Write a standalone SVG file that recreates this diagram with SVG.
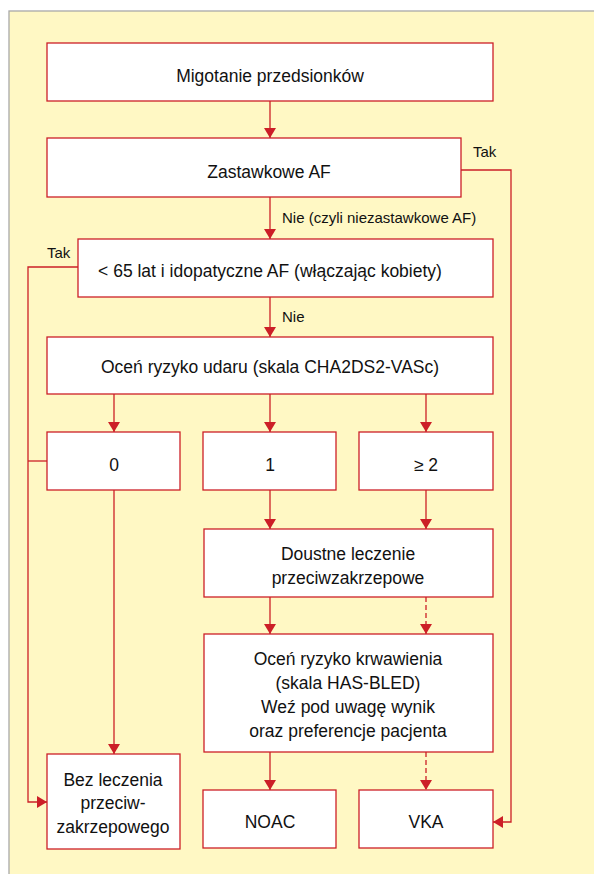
<svg xmlns="http://www.w3.org/2000/svg" width="594" height="874" viewBox="0 0 594 874">
<defs>
<marker id="ah" markerWidth="10" markerHeight="12" refX="10" refY="6" orient="auto" markerUnits="userSpaceOnUse">
<path d="M0,0 L10,6 L0,12 Z" fill="#cc1f27"/>
</marker>
<style>
.box{fill:#ffffff;stroke:#cc1f27;stroke-width:1.3}
.t{font-family:"Liberation Sans",Arial,sans-serif;font-size:17.5px;fill:#111;text-anchor:middle}
.l{font-family:"Liberation Sans",Arial,sans-serif;font-size:15px;fill:#111}
.c{fill:none;stroke:#cc1f27;stroke-width:1.3}
.a{marker-end:url(#ah)}
.d{stroke-dasharray:5,3}
</style>
</defs>
<rect x="9" y="11" width="600" height="880" fill="#fff8c4" stroke="#a9a9a9" stroke-width="1.3"/>

<g id="connectors">
<line class="c a" x1="270" y1="101" x2="270" y2="138"/>
<line class="c a" x1="270" y1="197" x2="270" y2="239"/>
<line class="c a" x1="270" y1="297" x2="270" y2="337"/>
<polyline class="c a" points="461,170 511,170 511,822 493,822"/>
<polyline class="c a" points="78,267 28,267 28,802 47,802"/>
<line class="c" x1="28" y1="461" x2="47" y2="461"/>
<line class="c a" x1="114" y1="394" x2="114" y2="432"/>
<line class="c a" x1="270" y1="394" x2="270" y2="432"/>
<line class="c a" x1="426" y1="394" x2="426" y2="432"/>
<line class="c a" x1="270" y1="490" x2="270" y2="529"/>
<line class="c a" x1="426" y1="490" x2="426" y2="529"/>
<line class="c a" x1="114" y1="490" x2="114" y2="754"/>
<line class="c a" x1="270" y1="597" x2="270" y2="634"/>
<line class="c a d" x1="426" y1="597" x2="426" y2="634"/>
<line class="c a" x1="270" y1="752" x2="270" y2="790"/>
<line class="c a d" x1="426" y1="752" x2="426" y2="790"/>
<text class="l" x="473" y="157">Tak</text>
<text class="l" x="282" y="223">Nie (czyli niezastawkowe AF)</text>
<text class="l" x="47" y="258">Tak</text>
<text class="l" x="282" y="322">Nie</text>
</g>

<g id="n1"><rect class="box" x="47" y="43" width="446" height="58"/><text class="t" x="270" y="82">Migotanie przedsionków</text></g>
<g id="n2"><rect class="box" x="47" y="138" width="414" height="59"/><text class="t" x="269" y="178">Zastawkowe AF</text></g>
<g id="n3"><rect class="box" x="78" y="239" width="415" height="58"/><text class="t" x="270" y="277">&lt; 65 lat i idopatyczne AF (włączając kobiety)</text></g>
<g id="n4"><rect class="box" x="47" y="337" width="446" height="57"/><text class="t" x="270" y="373">Oceń ryzyko udaru (skala CHA2DS2-VASc)</text></g>
<g id="n5"><rect class="box" x="47" y="432" width="133" height="58"/><text class="t" x="114" y="471">0</text></g>
<g id="n6"><rect class="box" x="203" y="432" width="133" height="58"/><text class="t" x="270" y="471">1</text></g>
<g id="n7"><rect class="box" x="359" y="432" width="134" height="58"/><text class="t" x="426" y="471">≥ 2</text></g>
<g id="n8"><rect class="box" x="204" y="529" width="289" height="68"/><text class="t" x="348" y="560">Doustne leczenie</text><text class="t" x="348" y="584">przeciwzakrzepowe</text></g>
<g id="n9"><rect class="box" x="204" y="634" width="289" height="118"/><text class="t" x="348" y="665">Oceń ryzyko krwawienia</text><text class="t" x="348" y="689">(skala HAS-BLED)</text><text class="t" x="348" y="713">Weź pod uwagę wynik</text><text class="t" x="348" y="737">oraz preferencje pacjenta</text></g>
<g id="n10"><rect class="box" x="47" y="754" width="133" height="95"/><text class="t" x="113" y="786">Bez leczenia</text><text class="t" x="113" y="809">przeciw-</text><text class="t" x="113" y="833">zakrzepowego</text></g>
<g id="n11"><rect class="box" x="203" y="790" width="133" height="58"/><text class="t" x="270" y="828">NOAC</text></g>
<g id="n12"><rect class="box" x="359" y="790" width="134" height="58"/><text class="t" x="426" y="828">VKA</text></g>
</svg>
